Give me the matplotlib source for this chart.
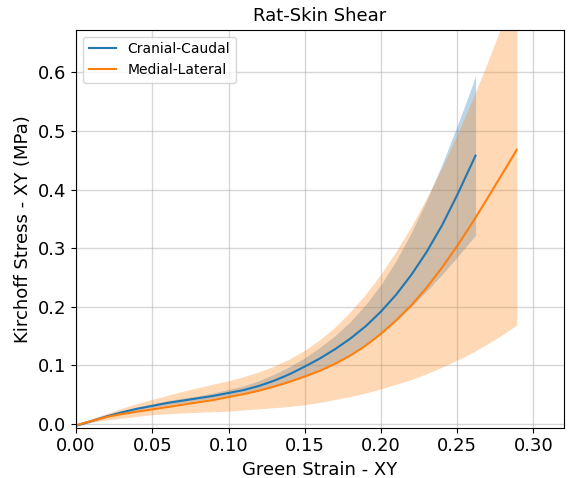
import numpy as np
import matplotlib
matplotlib.use("Agg")
import matplotlib.pyplot as plt

# Cranial-Caudal
cc_x = [0.00, 0.01, 0.02, 0.03, 0.04, 0.05, 0.06, 0.07, 0.08, 0.09, 0.10, 0.11, 0.12, 0.13,
        0.14, 0.15, 0.16, 0.17, 0.18, 0.19, 0.20, 0.21, 0.22, 0.23, 0.24, 0.25, 0.26, 0.262]
cc_mean = [-0.003, 0.005, 0.013, 0.020, 0.026, 0.031, 0.036, 0.040, 0.044, 0.048, 0.053, 0.058,
           0.065, 0.074, 0.085, 0.098, 0.112, 0.128, 0.146, 0.167, 0.192, 0.221, 0.255, 0.294,
           0.339, 0.391, 0.447, 0.458]
cc_lower = [-0.004, 0.003, 0.011, 0.018, 0.023, 0.028, 0.032, 0.036, 0.040, 0.044, 0.048, 0.052,
            0.057, 0.064, 0.073, 0.083, 0.094, 0.106, 0.120, 0.137, 0.156, 0.177, 0.201, 0.227,
            0.255, 0.285, 0.316, 0.322]
cc_upper = [-0.002, 0.007, 0.015, 0.022, 0.029, 0.034, 0.040, 0.044, 0.048, 0.053, 0.059, 0.065,
            0.074, 0.085, 0.098, 0.113, 0.131, 0.151, 0.175, 0.204, 0.238, 0.279, 0.327, 0.382,
            0.443, 0.509, 0.579, 0.594]

# Medial-Lateral
ml_x = [0.00, 0.01, 0.02, 0.03, 0.04, 0.05, 0.06, 0.07, 0.08, 0.09, 0.10, 0.11, 0.12, 0.13,
        0.14, 0.15, 0.16, 0.17, 0.18, 0.19, 0.20, 0.21, 0.22, 0.23, 0.24, 0.25, 0.26, 0.27,
        0.28, 0.289]
ml_mean = [-0.002, 0.005, 0.012, 0.017, 0.021, 0.025, 0.029, 0.033, 0.037, 0.041, 0.046, 0.051,
           0.057, 0.064, 0.072, 0.081, 0.091, 0.103, 0.117, 0.134, 0.154, 0.177, 0.203, 0.233,
           0.267, 0.304, 0.344, 0.386, 0.429, 0.468]
ml_lower = [-0.002, 0.003, 0.007, 0.010, 0.013, 0.016, 0.0175, 0.019, 0.020, 0.021, 0.022, 0.024,
            0.026, 0.028, 0.030, 0.033, 0.037, 0.042, 0.047, 0.053, 0.060, 0.068, 0.076, 0.086,
            0.097, 0.109, 0.122, 0.137, 0.153, 0.169]
ml_upper = [0.000, 0.009, 0.018, 0.027, 0.035, 0.042, 0.049, 0.056, 0.062, 0.068, 0.074, 0.081,
            0.089, 0.099, 0.111, 0.126, 0.144, 0.166, 0.192, 0.222, 0.256, 0.295, 0.338, 0.386,
            0.438, 0.494, 0.554, 0.618, 0.686, 0.750]

fig = plt.figure(figsize=(5.72, 4.78), dpi=100)
ax = fig.add_axes([0.1329, 0.1052, 0.8531, 0.8327])

blue = "#1f77b4"
orange = "#ff7f0e"

ax.fill_between(cc_x, cc_lower, cc_upper, color=blue, alpha=0.3, linewidth=0)
ax.fill_between(ml_x, ml_lower, ml_upper, color=orange, alpha=0.3, linewidth=0)
ax.plot(cc_x, cc_mean, color=blue, lw=1.5, label="Cranial-Caudal")
ax.plot(ml_x, ml_mean, color=orange, lw=1.5, label="Medial-Lateral")

ax.set_xlim(0, 0.32)
ax.set_ylim(-0.0063, 0.673)
ax.set_xticks([0.00, 0.05, 0.10, 0.15, 0.20, 0.25, 0.30])
ax.set_yticks([0.0, 0.1, 0.2, 0.3, 0.4, 0.5, 0.6])
ax.xaxis.set_major_formatter(matplotlib.ticker.FormatStrFormatter("%.2f"))
ax.yaxis.set_major_formatter(matplotlib.ticker.FormatStrFormatter("%.1f"))
ax.tick_params(labelsize=13)
ax.grid(True, color="#b0b0b0", alpha=0.5, linewidth=1)
ax.set_axisbelow(True)

ax.set_title("Rat-Skin Shear", fontsize=13)
ax.set_xlabel("Green Strain - XY", fontsize=13)
ax.set_ylabel("Kirchoff Stress - XY (MPa)", fontsize=13)
ax.legend(loc="upper left", fontsize=10)

fig.savefig("out.png", dpi=100)
